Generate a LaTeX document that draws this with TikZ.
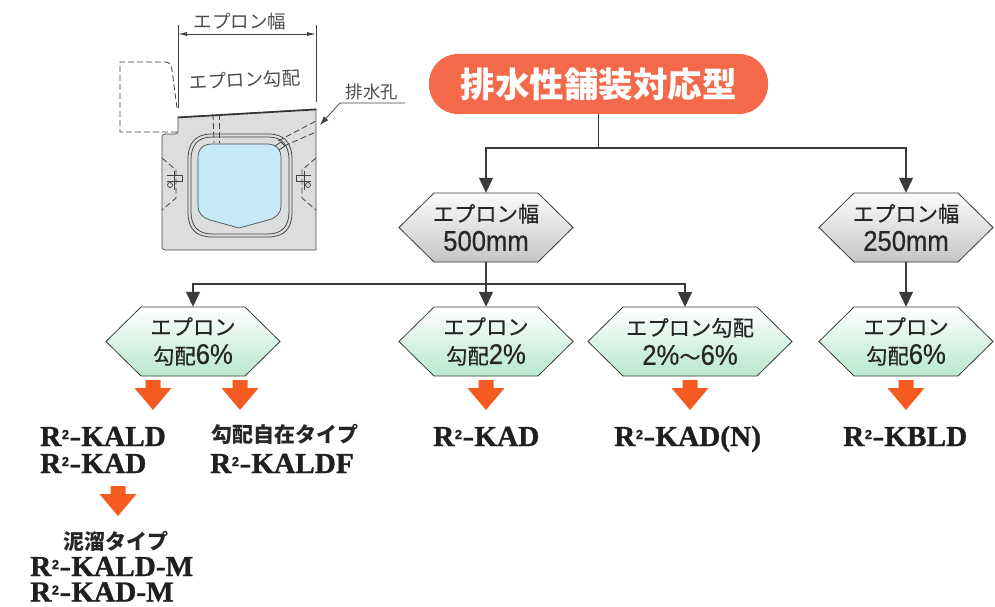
\documentclass[tikz,border=0pt]{standalone}
\usepackage{fontspec}
\usetikzlibrary{arrows.meta,calc}
\setmainfont{Noto Sans CJK JP}
\newfontfamily\hexf[FakeBold=0.35]{Noto Sans CJK JP}
\newfontfamily\latn[FakeStretch=0.9,FakeBold=0.45]{Liberation Sans}
\newfontfamily\slab[FakeStretch=1.01,FakeBold=1.0]{Liberation Serif Bold}
\newfontfamily\slabs[FakeBold=0.6]{Liberation Sans Bold}
\newcommand\num[1]{{\fontsize{28.5}{29}\selectfont\latn #1}}
\newcommand\Rt[1]{{\fontsize{29}{29}\selectfont\slab R\kern0.5pt\raisebox{7pt}{\fontsize{13}{13}\selectfont\slabs 2}\kern0.5pt\scalebox{1.2}[1]{-}#1}}
\definecolor{gb}{HTML}{DCDDDD}
\definecolor{win}{HTML}{C6E9F8}
\definecolor{ink}{HTML}{3A3A3A}
\definecolor{org}{HTML}{F55A21}
\definecolor{pillc}{HTML}{F4694A}
\tikzset{
  conn/.style={draw=ink,line width=1.1pt},
  arr/.style={conn,-{Triangle[length=15pt,width=14pt]}},
  hexgray/.style={draw=ink,line width=0.8pt,top color=white!97!gray,bottom color=gray!45},
  hexgreen/.style={draw=ink,line width=0.8pt,top color=white,bottom color=green!35!teal!28!white},
  hextext/.style={inner sep=0pt,align=center,text=black!85,font=\fontsize{21.3}{29}\selectfont\hexf},
  thin line/.style={draw=black!75,line width=0.75pt},
  dash line/.style={draw=black!75,line width=0.8pt,dash pattern=on 6pt off 3pt},
  lab/.style={text=black!70,inner sep=0pt},
  model/.style={inner sep=0pt,anchor=base west,text=black!88},
  jpb/.style={inner sep=0pt,text=black!85,font=\fontsize{21}{24}\selectfont\bfseries},
}
\newcommand\hexn[6]{% name cx halfwidth cy style text
  \path[#5] (#2-#3,#4) -- (#2-#3+35,#4-34.5) -- (#2+#3-35,#4-34.5) -- (#2+#3,#4) -- (#2+#3-35,#4+34.5) -- (#2-#3+35,#4+34.5) -- cycle;
  \node[hextext,minimum width=2*#3-70,minimum height=69pt] (#1) at (#2,#4) {#6};
}
\newcommand\oarr[2]{%
  \fill[org] (#1-7.5,#2) -- (#1+7.5,#2) -- (#1+7.5,#2+8) -- (#1+18.5,#2+8) -- (#1,#2+30) -- (#1-18.5,#2+8) -- (#1-7.5,#2+8) -- cycle;
}
\begin{document}
\begin{tikzpicture}[x=1pt,y=-1pt]
\useasboundingbox (0,0) rectangle (995,607);
% ---- drawing
\fill[gb,draw=black!70,line width=0.7pt] (178,117) -- (316,109) -- (316,250) -- (166,250) [rounded corners=3pt] -- (162,250) -- (162,134) -- (178,134) [sharp corners] -- cycle;
\draw[line width=1.6pt,black!80] (178,117.5) -- (316,109.5);
\draw[thin line] (188,160) .. controls (188,142) and (196,134) .. (212,134) -- (268,134) .. controls (284,134) and (292,142) .. (292,160) -- (292,212) .. controls (292,229) and (284,237) .. (268,237) -- (212,237) .. controls (196,237) and (188,229) .. (188,212) -- cycle;
\draw[thin line] (191,160) .. controls (191,145) and (198,137) .. (212,137) -- (268,137) .. controls (282,137) and (289,145) .. (289,160) -- (289,212) .. controls (289,226) and (282,234) .. (268,234) -- (212,234) .. controls (198,234) and (191,226) .. (191,212) -- cycle;
\fill[win,draw=black!70,line width=0.7pt] (198,158) .. controls (198,149) and (203,144) .. (212,144) -- (267,144) .. controls (276,144) and (281,149) .. (281,158) -- (281,205) .. controls (281,214) and (276,218) .. (268,220) -- (239,228) -- (210,220) .. controls (203,218) and (198,214) .. (198,205) -- cycle;
\draw[dash line] (213,114) -- (214,143);
\draw[dash line] (219,114) -- (219,143);
\draw[dash line] (278,141) -- (316,121);
\draw[dash line] (284,146) -- (316,132);
\draw[thin line] (275,146) -- (281,142) -- (285,146) -- (279,150);
% side details
\draw[dash line] (162,158) -- (176,170) -- (176,198) -- (162,210);
\draw[dash line] (316,158) -- (302,170) -- (302,198) -- (316,210);
\draw[thin line] (167,175) -- (182,175) -- (182,181) -- (167,181);
\draw[thin line] (174,171) -- (174,190);
\draw[thin line] (170,185) circle (2.5);
\draw[thin line] (311,175) -- (296,175) -- (296,181) -- (311,181);
\draw[thin line] (304,171) -- (304,190);
\draw[thin line] (308,185) circle (2.5);
% gate
\draw[dash line] (177,108) -- (172,70) .. controls (171,65) and (170,62) .. (165,62) -- (120,62) -- (120,132) -- (178,132);
% dimensions
\draw[thin line] (178,25) -- (178,108);
\draw[thin line] (316,25) -- (316,102);
\coordinate (dl) at (178,34); \coordinate (dr) at (316,34);
\draw[thin line,{Latex[length=9pt,width=4pt]}-{Latex[length=9pt,width=4pt]}] (dl) -- (dr);
\node[lab,font=\fontsize{18.5}{20}\selectfont] (tw) at (240,21) {エプロン幅};
\node[lab,font=\fontsize{18.5}{20}\selectfont,rotate=3] (ts) at (245,80) {エプロン勾配};
\node[lab,font=\fontsize{17.5}{18}\selectfont] (th) at (372,92) {排水孔};
\coordinate (l1) at (405,103); \coordinate (l2) at (340,103); \coordinate (l3) at (320,125);
\draw[thin line,-{Latex[length=9pt,width=6pt]}] (l1) -- (l2) -- (l3);
% ---- flow
\node[fill=pillc,rounded corners=29pt,minimum width=339pt,minimum height=60pt,inner sep=0pt,text=white,font=\fontsize{34.5}{36}\selectfont\bfseries] (pill) at (598.5,84) {排水性舗装対応型};
\hexn{hW}{486}{87}{227.5}{hexgray}{エプロン幅\\\num{500mm}}
\hexn{hN}{906}{87}{227.5}{hexgray}{エプロン幅\\\num{250mm}}
\hexn{hA}{193}{87}{341.5}{hexgreen}{エプロン\\勾配\num{6\%}}
\hexn{hB}{486}{87}{341.5}{hexgreen}{エプロン\\勾配\num{2\%}}
\hexn{hC}{690}{102}{341.5}{hexgreen}{エプロン勾配\\\num{2\%}〜\num{6\%}}
\hexn{hD}{906}{87}{341.5}{hexgreen}{エプロン\\勾配\num{6\%}}
\coordinate (jt) at (598.5,148);
\coordinate (jm) at (486,284);
\coordinate (cin) at (685,307);
\draw[conn] (pill.south) -- (jt);
\draw[arr] (jt) -| (hW.north);
\draw[arr] (jt) -| (hN.north);
\draw[conn] (hW.south) -- (jm);
\draw[arr] (jm) -| (hA.north);
\draw[arr] (jm) -- (hB.north);
\draw[arr] (jm) -| (cin);
\draw[arr] (hN.south) -- (hD.north);
\oarr{153}{380}\oarr{240}{380}\oarr{486}{380}\oarr{690}{380}\oarr{906}{380}\oarr{118}{486}
\node[model] (m1) at (40,446) {\Rt{KALD}};
\node[model] (m2) at (40,473) {\Rt{KAD}};
\node[jpb] (j1) at (284.5,434) {勾配自在タイプ};
\node[model] (m3) at (210,473) {\Rt{KALDF}};
\node[model] (m4) at (433,446) {\Rt{KAD}};
\node[model] (m5) at (614,446) {\Rt{KAD(N)}};
\node[model] (m6) at (843,446) {\Rt{KBLD}};
\node[jpb] (j2) at (115.5,541) {泥溜タイプ};
\node[model] (m7) at (30,576) {\Rt{KALD-M}};
\node[model] (m8) at (30,601.5) {\Rt{KAD-M}};
\end{tikzpicture}
\end{document}
